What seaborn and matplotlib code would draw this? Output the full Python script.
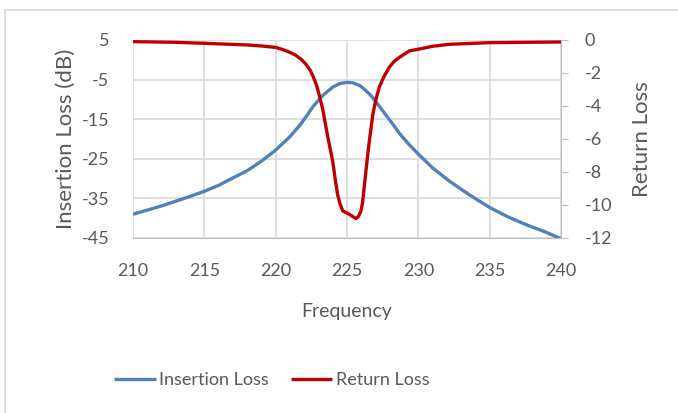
import matplotlib
matplotlib.use("Agg")
import matplotlib.pyplot as plt
import seaborn as sns
import pandas as pd
from matplotlib.patches import Rectangle

# Insertion loss (dB)
il_freq = [210, 212, 214, 215, 216, 218, 219, 220, 221, 221.7, 222.2, 222.6, 223.0,
           223.3, 223.7, 224.0, 224.5, 225.0, 225.4, 225.9, 226.2, 226.6, 227.0,
           227.3, 227.8, 228.2, 228.7, 229.4, 230, 231, 232.2, 233.5, 235, 236.3,
           237.6, 239, 240]
il_db = [-39.0, -36.9, -34.5, -33.2, -31.7, -28.0, -25.6, -22.8, -19.4, -16.5, -14.0,
         -11.9, -10.2, -9.0, -7.8, -6.9, -6.0, -5.7, -5.8, -6.5, -7.4, -8.7, -10.5,
         -11.9, -14.3, -16.2, -18.7, -21.6, -23.8, -27.3, -30.7, -33.9, -37.3, -39.7,
         -41.7, -43.6, -45.2]

# Return loss
rl_freq = [210, 213, 215, 218, 219, 220, 220.5, 221, 221.4, 221.8, 222.1, 222.4,
           222.6, 222.85, 223.06, 223.3, 223.5, 223.75, 224.0, 224.2, 224.34, 224.5,
           224.7, 225.16, 225.4, 225.63, 225.8, 225.98, 226.1, 226.2, 226.45, 226.6,
           226.8, 227.0, 227.26, 227.6, 227.96, 228.3, 228.66, 229.37, 230, 231,
           232.2, 235, 240]
rl_db = [-0.1, -0.14, -0.2, -0.3, -0.36, -0.45, -0.58, -0.75, -0.92, -1.18, -1.45,
         -1.8, -2.16, -2.7, -3.36, -4.2, -5.16, -6.3, -7.36, -8.6, -9.36, -9.9,
         -10.36, -10.56, -10.7, -10.82, -10.7, -10.36, -9.8, -8.96, -6.96, -5.9,
         -4.56, -3.7, -2.86, -2.2, -1.66, -1.3, -1.06, -0.66, -0.56, -0.38, -0.26,
         -0.16, -0.12]

BLUE = "#4F81BD"
RED = "#C00000"
TXT = "#595959"
GRID = "#D9D9D9"
AXLINE = "#BFBFBF"

sns.set_style("white")
plt.rcParams['font.family'] = ['Lato', 'DejaVu Sans']
plt.rcParams['axes.unicode_minus'] = False

fig = plt.figure(figsize=(6.78, 4.13), dpi=100)
ax = fig.add_axes([133 / 678, 1 - 238 / 413, 428 / 678, 198 / 413])
ax2 = ax.twinx()

il = pd.DataFrame({"freq": il_freq, "db": il_db})
rl = pd.DataFrame({"freq": rl_freq, "db": rl_db})
sns.lineplot(data=il, x="freq", y="db", ax=ax, color=BLUE, lw=2.4, legend=False,
             solid_joinstyle="round", solid_capstyle="butt")
sns.lineplot(data=rl, x="freq", y="db", ax=ax2, color=RED, lw=2.4, legend=False,
             solid_joinstyle="round", solid_capstyle="butt")

ax.set_xlim(210, 240)
ax.set_ylim(-45, 5)
ax2.set_ylim(-12, 0)
ax.set_xticks(range(210, 241, 5))
ax.set_yticks(range(-45, 6, 10))
ax2.set_yticks(range(-12, 1, 2))
ax.grid(True, color=GRID, lw=1.2)
ax.set_axisbelow(True)

for a in (ax, ax2):
    for s in a.spines.values():
        s.set_visible(False)
ax.spines['bottom'].set_visible(True)
ax.spines['bottom'].set_color(AXLINE)
ax2.spines['right'].set_visible(True)
ax2.spines['right'].set_color(AXLINE)

ax.tick_params(axis='x', length=0, labelsize=13, labelcolor=TXT, pad=18)
ax.tick_params(axis='y', length=0, labelsize=13, labelcolor=TXT, pad=17)
ax2.tick_params(axis='y', length=5, color=AXLINE, labelsize=13, labelcolor=TXT, pad=12)

ax.set_xlabel("Frequency", fontsize=14, color=TXT, labelpad=17)
ax.set_ylabel("Insertion Loss (dB)", fontsize=16, color=TXT, labelpad=4)
ax2.set_ylabel("Return Loss", fontsize=16, color=TXT, labelpad=14)

handles = ax.get_lines()[:1] + ax2.get_lines()[:1]
fig.legend(handles, ["Insertion Loss", "Return Loss"], loc="center",
           bbox_to_anchor=(272 / 678, 1 - 380 / 413), ncol=2, frameon=False,
           fontsize=13, labelcolor=TXT, handlelength=2.3, handletextpad=0.2,
           columnspacing=1.2)

fig.patches.append(Rectangle((5 / 678, -0.05), 1.1, 1 - 10 / 413 + 0.05,
                             transform=fig.transFigure, fill=False,
                             edgecolor=GRID, lw=1.2))

fig.savefig("out.png", dpi=100)
